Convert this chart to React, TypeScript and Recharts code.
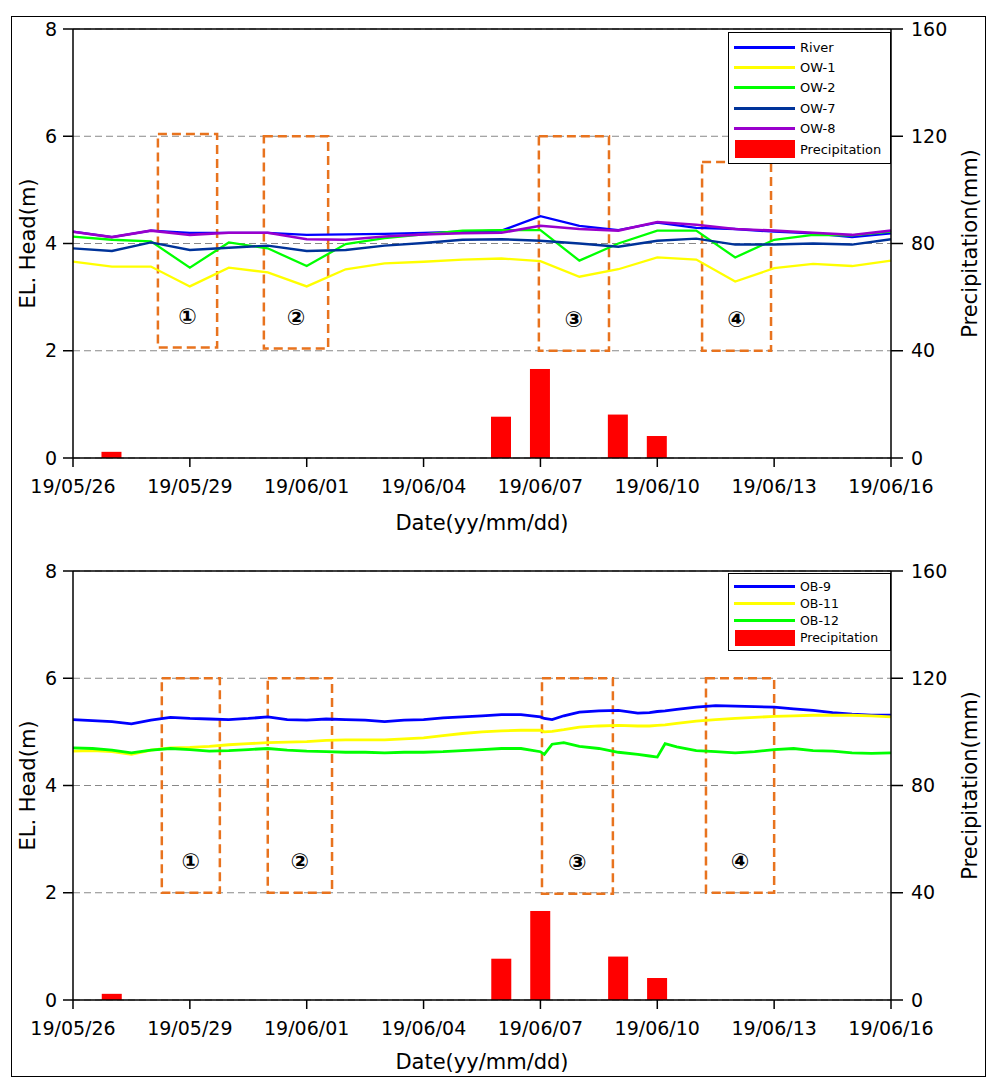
import React from "react";
import {
  Bar,
  CartesianGrid,
  ComposedChart,
  Legend,
  Line,
  ReferenceArea,
  ReferenceLine,
  XAxis,
  YAxis,
} from "recharts";

const FONT = '"DejaVu Sans", Verdana, sans-serif';

// daily dates, 19/05/26 .. 19/06/16 (x value = index)
const dates = [
  "19/05/26", "19/05/27", "19/05/28", "19/05/29", "19/05/30", "19/05/31",
  "19/06/01", "19/06/02", "19/06/03", "19/06/04", "19/06/05", "19/06/06",
  "19/06/07", "19/06/08", "19/06/09", "19/06/10", "19/06/11", "19/06/12",
  "19/06/13", "19/06/14", "19/06/15", "19/06/16",
];
const xTicks = [0, 3, 6, 9, 12, 15, 18, 21];
const headTicks = [0, 2, 4, 6, 8];
const rainTicks = [0, 40, 80, 120, 160];

// precipitation (mm), same for both panels
const rainDays = [1, 11, 12, 14, 15];
const rainMm = [2.3, 15.4, 33.2, 16.2, 8.2];

// top panel, daily heads (m)
const river = [4.22, 4.12, 4.24, 4.2, 4.2, 4.2, 4.16, 4.17, 4.18, 4.2, 4.22, 4.24, 4.51, 4.33, 4.25, 4.39, 4.29, 4.27, 4.22, 4.19, 4.12, 4.19];
const ow1 = [3.66, 3.57, 3.57, 3.2, 3.55, 3.46, 3.2, 3.52, 3.63, 3.66, 3.7, 3.72, 3.67, 3.38, 3.52, 3.74, 3.7, 3.29, 3.54, 3.62, 3.58, 3.68];
const ow2 = [4.13, 4.07, 4.04, 3.55, 4.02, 3.91, 3.58, 3.99, 4.1, 4.17, 4.24, 4.25, 4.25, 3.68, 4.0, 4.24, 4.24, 3.74, 4.07, 4.16, 4.15, 4.22];
const ow7 = [3.91, 3.86, 4.02, 3.88, 3.92, 3.96, 3.86, 3.88, 3.96, 4.01, 4.07, 4.08, 4.05, 4.0, 3.94, 4.05, 4.09, 3.98, 3.98, 4.0, 3.98, 4.08];
const ow8 = [4.22, 4.12, 4.24, 4.16, 4.2, 4.2, 4.08, 4.07, 4.13, 4.17, 4.19, 4.2, 4.33, 4.27, 4.24, 4.4, 4.35, 4.27, 4.24, 4.2, 4.16, 4.24];

// bottom panel, readings at day offsets
const obDays = [
  0, 0.5, 1, 1.5, 2, 2.5, 3, 3.5, 4, 4.5, 5, 5.5, 6, 6.5, 7, 7.5, 8, 8.5, 9, 9.5, 10, 10.5, 11, 11.5, 12,
  12.1, 12.3, 12.6, 13, 13.5, 14, 14.5, 14.8, 15, 15.2,
  15.5, 16, 16.5, 17, 17.5, 18, 18.5, 19, 19.5, 20, 20.5, 21,
];
const ob9 = [
  5.23, 5.21, 5.19, 5.15, 5.22, 5.27, 5.25, 5.24, 5.23, 5.25, 5.28, 5.23, 5.22, 5.24, 5.23, 5.22, 5.19, 5.22, 5.23, 5.26, 5.28, 5.3, 5.32, 5.32, 5.28,
  5.25, 5.23, 5.3, 5.37, 5.39, 5.4, 5.35, 5.36, 5.38, 5.39,
  5.42, 5.46, 5.49, 5.48, 5.47, 5.46, 5.43, 5.4, 5.36, 5.33, 5.31, 5.31,
];
const ob11 = [
  4.64, 4.65, 4.63, 4.58, 4.66, 4.7, 4.71, 4.73, 4.76, 4.78, 4.8, 4.81, 4.82, 4.84, 4.85, 4.85, 4.85, 4.87, 4.89, 4.93, 4.97, 5.0, 5.02, 5.03, 5.03,
  5.0, 5.01, 5.04, 5.09, 5.11, 5.12, 5.11, 5.11, 5.12, 5.13,
  5.16, 5.2, 5.23, 5.25, 5.27, 5.29, 5.3, 5.31, 5.31, 5.31, 5.3, 5.28,
];
const ob12 = [
  4.7, 4.69, 4.66, 4.61, 4.66, 4.69, 4.67, 4.64, 4.65, 4.67, 4.69, 4.66, 4.64, 4.63, 4.62, 4.62, 4.61, 4.62, 4.62, 4.63, 4.65, 4.67, 4.69, 4.69, 4.63,
  4.58, 4.77, 4.8, 4.73, 4.69, 4.62, 4.58, 4.55, 4.53, 4.78,
  4.72, 4.65, 4.63, 4.61, 4.63, 4.67, 4.69, 4.65, 4.64, 4.61, 4.6, 4.61,
];

// dashed event boxes (day, head)
const topBoxes = [
  { x1: 2.18, x2: 3.7, y1: 2.06, y2: 6.04, label: "①" },
  { x1: 4.9, x2: 6.55, y1: 2.04, y2: 6.0, label: "②" },
  { x1: 11.96, x2: 13.76, y1: 2.0, y2: 6.0, label: "③" },
  { x1: 16.15, x2: 17.92, y1: 2.0, y2: 5.52, label: "④" },
];
const bottomBoxes = [
  { x1: 2.28, x2: 3.77, y1: 2.0, y2: 6.0, label: "①" },
  { x1: 5.0, x2: 6.65, y1: 2.0, y2: 6.0, label: "②" },
  { x1: 12.04, x2: 13.86, y1: 1.98, y2: 6.0, label: "③" },
  { x1: 16.25, x2: 18.0, y1: 2.0, y2: 6.0, label: "④" },
];

const rainAt = (d: number) => {
  const i = rainDays.indexOf(d);
  return i >= 0 ? rainMm[i] : null;
};

const topData = dates.map((_, i) => ({
  day: i, river: river[i], ow1: ow1[i], ow2: ow2[i], ow7: ow7[i], ow8: ow8[i], rain: rainAt(i),
}));
const bottomData = obDays.map((d, i) => ({
  day: d, ob9: ob9[i], ob11: ob11[i], ob12: ob12[i], rain: rainAt(d),
}));

const topSeries = [
  { key: "river", name: "River", color: "#0000ff", width: 2.3 },
  { key: "ow1", name: "OW-1", color: "#ffff00", width: 2.3 },
  { key: "ow2", name: "OW-2", color: "#00ff00", width: 2.3 },
  { key: "ow7", name: "OW-7", color: "#003399", width: 2.4 },
  { key: "ow8", name: "OW-8", color: "#9900cc", width: 2.6 },
];
const bottomSeries = [
  { key: "ob9", name: "OB-9", color: "#0000ff", width: 2.8 },
  { key: "ob11", name: "OB-11", color: "#ffff00", width: 2.8 },
  { key: "ob12", name: "OB-12", color: "#00ff00", width: 2.8 },
];

const RainBar = (props: any) => {
  const { x, y, width, height } = props;
  if (!height || height <= 0) return null;
  return <rect x={x + width / 2 - 10} y={y} width={20} height={height} fill="#ff0000" />;
};

function LegendBox({ series, rowH, fontSize, swatchH }: any) {
  const items = [...series.map((s: any) => ({ name: s.name, color: s.color, bar: false })),
    { name: "Precipitation", color: "#ff0000", bar: true }];
  return (
    <div style={{ width: 163, boxSizing: "border-box", border: "1px solid #000", background: "#fff", padding: "4px 0", fontFamily: FONT }}>
      {items.map((it) => (
        <div key={it.name} style={{ display: "flex", alignItems: "center", height: rowH }}>
          {it.bar
            ? <span style={{ marginLeft: 6, width: 60, height: swatchH, background: it.color }} />
            : <span style={{ marginLeft: 5, width: 61, height: 3, background: it.color }} />}
          <span style={{ marginLeft: 5, fontSize, color: "#000", whiteSpace: "nowrap" }}>{it.name}</span>
        </div>
      ))}
    </div>
  );
}

function Panel({ data, series, boxes, height, titleOffset, legendTop, rowH, legendFont, swatchH }: any) {
  const xAxisHeight = height - 29 - 429;
  const tick = { fill: "#000", fontSize: 19, fontFamily: FONT };
  const axisLine = { stroke: "#000", strokeWidth: 1.5 };
  return (
    <ComposedChart width={996} height={height} data={data} margin={{ top: 29, right: 10, bottom: 0, left: 20 }}>
      <CartesianGrid vertical={false} stroke="#888" strokeDasharray="7 4" />
      <XAxis
        dataKey="day"
        type="number"
        domain={[0, 21]}
        ticks={xTicks}
        interval={0}
        tickFormatter={(v: number) => dates[v]}
        height={xAxisHeight}
        tickSize={9}
        tickMargin={13}
        tick={tick}
        axisLine={axisLine}
        tickLine={axisLine}
        label={{ value: "Date(yy/mm/dd)", position: "insideBottom", offset: titleOffset, fontSize: 21, fill: "#000", fontFamily: FONT }}
      />
      <YAxis
        domain={[0, 8]}
        ticks={headTicks}
        width={53}
        tickSize={10}
        tickMargin={6}
        tick={tick}
        axisLine={axisLine}
        tickLine={axisLine}
        label={{ value: "EL. Head(m)", angle: -90, position: "insideLeft", offset: 8, style: { textAnchor: "middle" }, fontSize: 21, fill: "#000", fontFamily: FONT }}
      />
      <YAxis
        yAxisId="right"
        orientation="right"
        domain={[0, 160]}
        ticks={rainTicks}
        width={95}
        tickSize={12}
        tickMargin={8}
        tick={tick}
        axisLine={axisLine}
        tickLine={axisLine}
        label={{ value: "Precipitation(mm)", angle: -90, position: "insideRight", offset: 16, style: { textAnchor: "middle" }, fontSize: 21, fill: "#000", fontFamily: FONT }}
      />
      <ReferenceLine y={8} stroke="#000" strokeWidth={1.5} />
      <Bar yAxisId="right" dataKey="rain" name="Precipitation" fill="#ff0000" barSize={20} shape={RainBar} isAnimationActive={false} />
      {series.map((s: any) => (
        <Line key={s.key} type="linear" dataKey={s.key} name={s.name} stroke={s.color} strokeWidth={s.width} dot={false} isAnimationActive={false} />
      ))}
      {boxes.map((b: any) => (
        <ReferenceArea
          key={b.label}
          x1={b.x1}
          x2={b.x2}
          y1={b.y1}
          y2={b.y2}
          fill="none"
          stroke="#e8731e"
          strokeWidth={2.5}
          strokeDasharray="9 5"
          label={{ value: b.label, position: "insideBottom", offset: 24, fontSize: 22, fontWeight: "bold", fill: "#000", fontFamily: FONT }}
        />
      ))}
      <Legend
        layout="vertical"
        align="center"
        verticalAlign="middle"
        wrapperStyle={{ left: 728, top: legendTop, width: 163 }}
        content={() => <LegendBox series={series} rowH={rowH} fontSize={legendFont} swatchH={swatchH} />}
      />
    </ComposedChart>
  );
}

export default function App() {
  return (
    <div style={{ position: "absolute", left: 0, top: 0, width: 996, height: 1080, background: "#fff", fontFamily: FONT }}>
      <div style={{ position: "absolute", left: 11, top: 16, width: 975, height: 1061, border: "1.5px solid #000", boxSizing: "border-box" }} />
      <div style={{ position: "absolute", left: 0, top: 0 }}>
        <Panel data={topData} series={topSeries} boxes={topBoxes} height={545} titleOffset={15}
          legendTop={32} rowH={20.4} legendFont={13} swatchH={18} />
      </div>
      <div style={{ position: "absolute", left: 0, top: 542 }}>
        <Panel data={bottomData} series={bottomSeries} boxes={bottomBoxes} height={538} titleOffset={11}
          legendTop={31} rowH={17} legendFont={12.5} swatchH={16} />
      </div>
    </div>
  );
}
